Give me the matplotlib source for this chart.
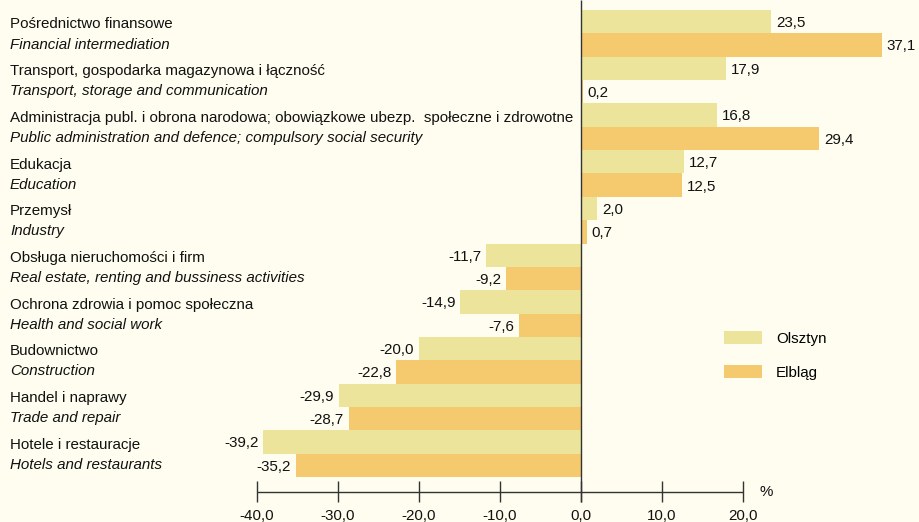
import matplotlib
matplotlib.use("Agg")
import matplotlib.pyplot as plt
from matplotlib.patches import Patch

plt.rcParams["font.family"] = ["Liberation Sans", "DejaVu Sans"]

labels_pl = [
    "Pośrednictwo finansowe",
    "Transport, gospodarka magazynowa i łączność",
    "Administracja publ. i obrona narodowa; obowiązkowe ubezp.  społeczne i zdrowotne",
    "Edukacja",
    "Przemysł",
    "Obsługa nieruchomości i firm",
    "Ochrona zdrowia i pomoc społeczna",
    "Budownictwo",
    "Handel i naprawy",
    "Hotele i restauracje",
]
labels_en = [
    "Financial intermediation",
    "Transport, storage and communication",
    "Public administration and defence; compulsory social security",
    "Education",
    "Industry",
    "Real estate, renting and bussiness activities",
    "Health and social work",
    "Construction",
    "Trade and repair",
    "Hotels and restaurants",
]
olsztyn = [23.5, 17.9, 16.8, 12.7, 2.0, -11.7, -14.9, -20.0, -29.9, -39.2]
elblag = [37.1, 0.2, 29.4, 12.5, 0.7, -9.2, -7.6, -22.8, -28.7, -35.2]
ticks = [-40, -30, -20, -10, 0, 10, 20]

BG = "#fefdf0"
C_OLS = "#ebe49a"
C_ELB = "#f5c96e"
LINE = "#333333"

# pixel layout of the original: zero at x=581, 8.1 px per unit, 46.7 px per category
px_unit = 8.1
x0 = 581
cat_px = 46.7
top_px = 10
W, H = 920, 522

fig = plt.figure(figsize=(W / 100, H / 100), dpi=100, facecolor=BG)
ax = fig.add_axes([0, 0, 1, 1])
ax.set_facecolor(BG)
ax.set_xlim(-x0 / px_unit, (W - x0) / px_unit)
ax.set_ylim((H - top_px) / cat_px, -top_px / cat_px)
ax.axis("off")

n = len(olsztyn)
pos = list(range(n))
ax.barh([p + 0.25 for p in pos], olsztyn, height=0.5, color=C_OLS, label="Olsztyn")
ax.barh([p + 0.75 for p in pos], elblag, height=0.5, color=C_ELB, label="Elbląg")


def fmt(v):
    return f"{v:.1f}".replace(".", ",")


pad = 0.6
fs = 10.9
for i in pos:
    for v, yc in ((olsztyn[i], i + 0.25), (elblag[i], i + 0.75)):
        if v >= 0:
            ax.text(v + pad, yc + 0.03, fmt(v), ha="left", va="center", fontsize=fs, color="#111111")
        else:
            ax.text(v - pad, yc + 0.03, fmt(v), ha="right", va="center", fontsize=fs, color="#111111")
    lx = (10 - x0) / px_unit
    ax.text(lx, i + 0.31, labels_pl[i], ha="left", va="center", fontsize=fs, color="#111111")
    ax.text(lx, i + 0.74, labels_en[i], ha="left", va="center", fontsize=fs,
            style="italic", color="#111111")

# axis
y_axis = (492 - top_px) / cat_px
y_t0 = (481 - top_px) / cat_px
y_t1 = (502 - top_px) / cat_px
ax.hlines(y_axis, ticks[0], ticks[-1], color=LINE, lw=1)
ax.vlines(ticks, y_t0, y_t1, color=LINE, lw=1)
ax.vlines(0, -top_px / cat_px, y_t1, color=LINE, lw=1)
for t in ticks:
    ax.text(t, (516 - top_px) / cat_px, f"{t:.1f}".replace(".", ","), ha="center",
            va="center", fontsize=fs, color="#111111")
ax.text(ticks[-1] + 2.0, y_axis + 0.01, "%", ha="left", va="center", fontsize=fs, color="#111111")

handles = [Patch(facecolor=C_OLS, label="Olsztyn"), Patch(facecolor=C_ELB, label="Elbląg")]
ax.legend(handles=handles, loc="upper left", bbox_to_anchor=(724 / W, 1 - 331 / H),
          frameon=False, fontsize=fs, handlelength=2.5, handleheight=0.95,
          labelspacing=1.3, handletextpad=0.95, borderpad=0, borderaxespad=0)

fig.savefig("out.png", dpi=100, facecolor=BG)
